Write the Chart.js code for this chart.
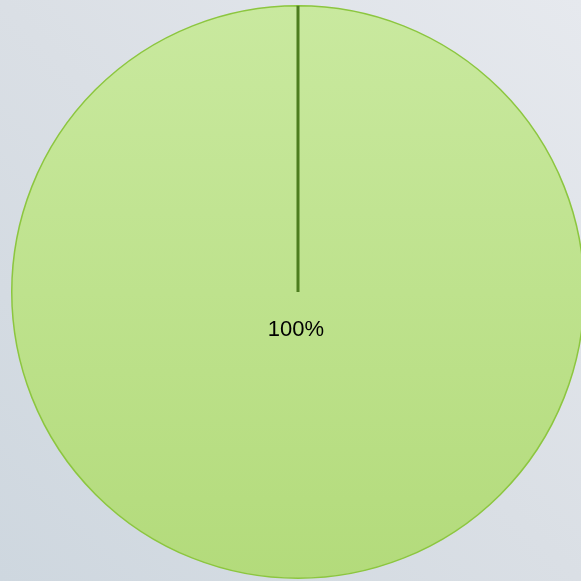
<!DOCTYPE html>
<html>
<head>
<meta charset="utf-8">
<script src="https://cdn.jsdelivr.net/npm/chart.js@4.4.1/dist/chart.umd.min.js"></script>
<style>
  html, body { margin: 0; padding: 0; overflow: hidden; }
  body {
    width: 581px; height: 581px;
    background: linear-gradient(225deg, #e6e9ee 0%, #dadfe5 50%, #ced7df 100%);
  }
  #wrap { position: absolute; left: 0; top: 0; width: 596px; height: 584px; }
</style>
</head>
<body>
<div id="wrap"><canvas id="pieChart"></canvas></div>
<script>
const labels = ['Series 1'];
const values = [100];
const pctLabels = ['100%'];

// dark radial line at slice start + percent label
const sliceDecor = {
  id: 'sliceDecor',
  afterDatasetsDraw(chart) {
    const c = chart.ctx;
    const meta = chart.getDatasetMeta(0);
    meta.data.forEach((arc, i) => {
      const p = arc.getProps(['x', 'y', 'startAngle', 'outerRadius']);
      c.save();
      c.strokeStyle = '#4d7d1f';
      c.lineWidth = 3;
      c.beginPath();
      c.moveTo(p.x, p.y);
      c.lineTo(p.x + Math.cos(p.startAngle) * p.outerRadius, p.y + Math.sin(p.startAngle) * p.outerRadius);
      c.stroke();
      c.fillStyle = '#000000';
      c.font = '22px "Liberation Sans", Arial, sans-serif';
      c.textAlign = 'center';
      c.textBaseline = 'middle';
      c.fillText(pctLabels[i], p.x - 2, p.y + 38);
      c.restore();
    });
  }
};

const ctx = document.getElementById('pieChart').getContext('2d');
const pieChart = new Chart(ctx, {
  type: 'pie',
  data: {
    labels: labels,
    datasets: [{
      data: values,
      backgroundColor: (context) => {
        const area = context.chart.chartArea;
        if (!area) return '#bfe28f';
        const g = context.chart.ctx.createLinearGradient(0, area.top, 0, area.bottom);
        g.addColorStop(0, '#c9e99f');
        g.addColorStop(1, '#b3db7b');
        return g;
      },
      borderColor: '#8cc63f',
      borderWidth: 1.5,
      hoverOffset: 0
    }]
  },
  options: {
    responsive: true,
    maintainAspectRatio: false,
    animation: false,
    layout: { padding: 5 },
    plugins: {
      legend: { display: false },
      tooltip: { enabled: false }
    }
  },
  plugins: [sliceDecor]
});
</script>
</body>
</html>
